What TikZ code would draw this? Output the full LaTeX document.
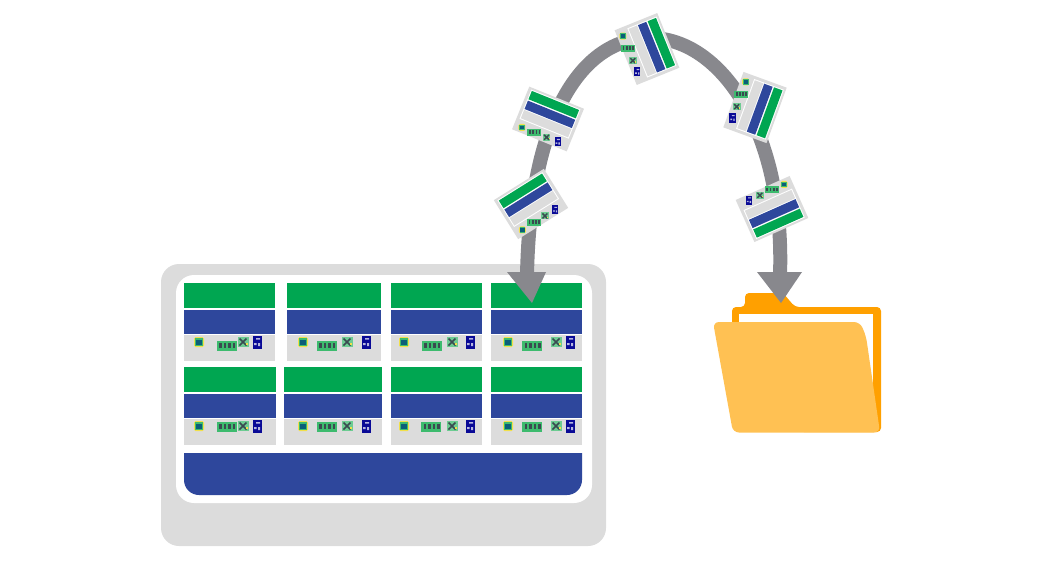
\documentclass[tikz,border=0pt]{standalone}
\usetikzlibrary{arrows.meta, calc}
\definecolor{bxGreen}{HTML}{00A651}
\definecolor{bxBlue}{HTML}{2E479C}
\definecolor{bxGray}{HTML}{DCDCDC}
\definecolor{bxArrow}{HTML}{88888D}
\definecolor{bxNavy}{HTML}{0A0A96}
\definecolor{bxTeal}{HTML}{0B5E78}
\definecolor{bxYellow}{HTML}{F2E04A}
\definecolor{bxRam}{HTML}{3DBB6E}
\definecolor{bxDark}{HTML}{3A4A50}
\definecolor{bxOrange}{HTML}{FFA000}
\definecolor{bxFlap}{HTML}{FFC153}
\tikzset{
  cpu/.pic={
    \fill[bxYellow, rounded corners=1.5pt] (-5,-5) rectangle (5,5);
    \fill[bxRam] (-4,-4) rectangle (4,4);
    \fill[bxTeal] (-3,-2.5) rectangle (3,2.5);
  },
  ram/.pic={
    \fill[bxRam] (-10,-5) rectangle (10,5);
    \foreach \sx in {-7.5,-3,1.5,6}
      \fill[bxDark] (\sx,-3.5) rectangle ++(2.5,5.5);
  },
  xbar/.pic={
    \fill[bxRam!75!white] (-5.5,-5) rectangle (5.5,5);
    \draw[bxDark, line width=1.5pt] (-3.5,-3.5) -- (3.5,3.5) (-3.5,3.5) -- (3.5,-3.5);
    \fill[bxYellow] (3,1) rectangle (5,3);
  },
  nic/.pic={
    \fill[bxNavy] (-4.5,-6.5) rectangle (4.5,6.5);
    \fill[white!70!bxNavy] (-1,-4) rectangle (3,-2.5) (-3,1) rectangle (-0.5,3) (1,1) rectangle (3,4);
  },
  packet/.pic={
    \fill[bxGray] (-29.5,-23) rectangle (29.5,23);
    \fill[white] (-26.5,-21) rectangle (26.5,10.5);
    \fill[bxGreen] (-25.5,-20) rectangle (25.5,-11);
    \fill[bxBlue] (-25.5,-9.5) rectangle (25.5,-0.5);
    \fill[bxGray] (-25.5,0.5) rectangle (25.5,9.5);
    \pic[scale=0.7] at (-21,17.5) {cpu};
    \pic[scale=0.7] at (-7.5,17.5) {ram};
    \pic[scale=0.7] at (5.5,17.5) {xbar};
    \pic[scale=0.7] at (17.5,17.5) {nic};
  }
}
\begin{document}
\begin{tikzpicture}[x=1pt, y=-1pt]
  \useasboundingbox (0,0) rectangle (1041,560);
  % Tray
  \fill[bxGray, rounded corners=18pt] (161,264) rectangle (606,546);
  \fill[white, rounded corners=18pt] (176,275) rectangle (592,503);
  \fill[bxBlue] (184,453) [rounded corners=15pt] -- (184,495) -- (582,495) [sharp corners] -- (582,453) -- cycle;
  % Cards
  \foreach \xa/\xb/\ya/\cx/\rx/\mx/\nx/\ry in {
    184/275/283/199/226.5/243/257/346,
    287/381/283/303/326.5/347/366/346,
    391/482/283/404/431.5/452/470/346,
    491/582/283/508/532/556/570/346,
    184/276/367/199/226.5/243/257/427,
    284/382/367/303/326.5/347/366/427,
    391/482/367/404/431/452/470/427,
    491/582/367/508/532/556/570/427}{
    \fill[bxGray] (\xa,\ya) rectangle (\xb,\ya+78);
    \fill[white] (\xa,\ya+24) rectangle (\xb,\ya+52);
    \fill[bxGreen] (\xa,\ya) rectangle (\xb,\ya+25);
    \fill[bxBlue] (\xa,\ya+26.5) rectangle (\xb,\ya+50.5);
    \pic at (\cx,\ya+59) {cpu};
    \pic at (\rx,\ry) {ram};
    \pic at (\mx,\ya+59) {xbar};
    \pic at (\nx,\ya+59) {nic};
  }
  % Route
  \coordinate (start) at (527,275);
  \coordinate (crest) at (650,38);
  \coordinate (finish) at (780,275);
  \draw[bxArrow, line width=14pt] (start) .. controls (530,120) and (580,38) .. (crest)
    .. controls (720,38) and (785,130) .. (finish);
  \fill[bxArrow] (507,272) -- (546,272) -- (532,303) -- cycle;
  % Folder
  \fill[bxOrange, rounded corners=4pt] (732,340) -- (732,307) -- (745,307) -- (745,293) -- (783,293)
    -- (795,307) -- (881,307) -- (881,432) -- (800,432) -- cycle;
  \fill[white] (739,314) rectangle (873,395);
  \fill[bxFlap, rounded corners=6pt] (713,322) -- (860,322) -- (866,336) -- (880,432.5) -- (733,432.5) -- cycle;
  \fill[bxArrow] (757,272) -- (802,272) -- (781,303) -- cycle;
  % Packets
  \pic[rotate=32] (pa) at (531,204) {packet};
  \pic[rotate=-22] (pb) at (548,119) {packet};
  \pic[rotate=-68] (pc) at (647,49) {packet};
  \pic[rotate=-110] (pd) at (755,107.5) {packet};
  \pic[rotate=-156] (pe) at (772,209) {packet};
\end{tikzpicture}
\end{document}
